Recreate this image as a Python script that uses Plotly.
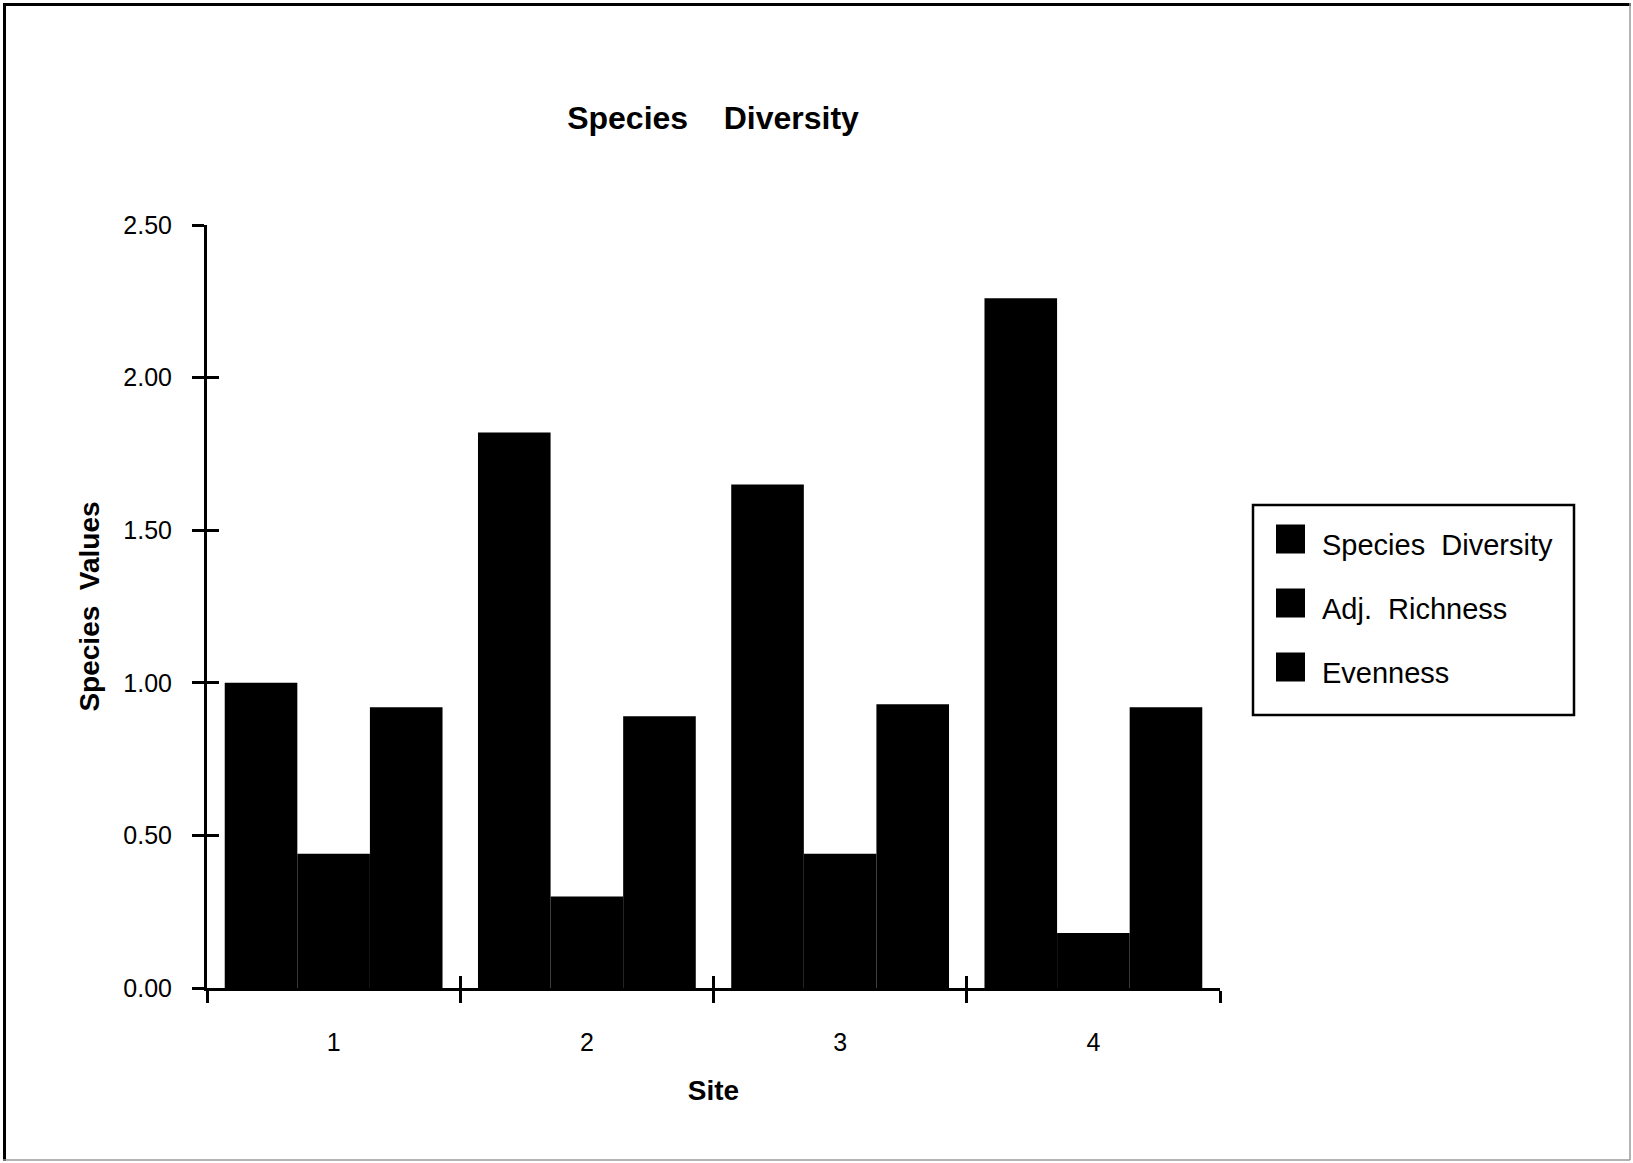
import plotly.graph_objects as go

# ---- data -------------------------------------------------------------
sites = ["1", "2", "3", "4"]
series_names = ["Species\u00a0\u00a0Diversity", "Adj.\u00a0\u00a0Richness", "Evenness"]
species_diversity = [1.00, 1.82, 1.65, 2.26]
adj_richness = [0.44, 0.30, 0.44, 0.18]
evenness = [0.92, 0.89, 0.93, 0.92]
y_ticks = [0.0, 0.5, 1.0, 1.5, 2.0, 2.5]

series_values = [species_diversity, adj_richness, evenness]
bar_color = "#000000"

# ---- geometry (pixels) ------------------------------------------------
FIG_W, FIG_H = 1633, 1163
L, R, T, B = 207, 413, 225, 175
PW, PH = FIG_W - L - R, FIG_H - T - B


def paper_x(px):
    return (px - L) / PW


def paper_y(py):
    return (FIG_H - B - py) / PH


FONT = "Liberation Sans, Arial, Helvetica, sans-serif"

fig = go.Figure()
for name, vals in zip(series_names, series_values):
    fig.add_trace(go.Bar(
        x=sites, y=vals, name=name,
        marker=dict(color=bar_color, line=dict(width=0)),
        showlegend=False,
    ))

n = len(sites)
boundaries = [i - 0.5 for i in range(n + 1)]

fig.update_layout(
    width=FIG_W, height=FIG_H,
    margin=dict(l=L, r=R, t=T, b=B, pad=0),
    paper_bgcolor="white", plot_bgcolor="white",
    barmode="group", bargap=0.14, bargroupgap=0,
    font=dict(family=FONT, color="black"),
    title=dict(
        text="<b>Species\u00a0\u00a0\u00a0\u00a0Diversity</b>",
        x=713 / FIG_W, xanchor="center", xref="container",
        y=1 - 118 / FIG_H, yanchor="middle", yref="container",
        font=dict(size=32, family=FONT, color="black"),
    ),
    xaxis=dict(
        type="category", tickson="boundaries",
        ticks="outside", ticklen=12, tickwidth=3, tickcolor="black",
        showline=True, linewidth=3, linecolor="black",
        showgrid=False, zeroline=False,
        tickfont=dict(size=25, family=FONT, color="black"),
        ticklabelstandoff=30,
        title=dict(text="<b>Site</b>", standoff=26,
                   font=dict(size=28, family=FONT, color="black")),
        range=[-0.5, n - 0.5],
    ),
    yaxis=dict(
        range=[0, 2.5], tickvals=y_ticks, tickformat=".2f",
        ticks="outside", ticklen=12, tickwidth=3, tickcolor="black",
        showline=True, linewidth=3, linecolor="black",
        showgrid=False, zeroline=False,
        tickfont=dict(size=25, family=FONT, color="black"),
        ticklabelstandoff=15,
        title=dict(text="<b>Species\u00a0\u00a0Values</b>", standoff=16,
                   font=dict(size=28, family=FONT, color="black")),
    ),
    # overlay axes supply the inner half of each crossing tick mark
    xaxis2=dict(
        overlaying="x", anchor="y", range=[-0.5, n - 0.5],
        tickvals=boundaries, ticks="inside", ticklen=12, tickwidth=3,
        tickcolor="black", showticklabels=False, showline=False,
        showgrid=False, zeroline=False,
    ),
    yaxis2=dict(
        overlaying="y", anchor="x", side="left", range=[0, 2.5],
        tickvals=y_ticks, ticks="inside", ticklen=12, tickwidth=3,
        tickcolor="black", showticklabels=False, showline=False,
        showgrid=False, zeroline=False,
    ),
)

# empty trace so the overlay axes are drawn
fig.add_trace(go.Scatter(x=[], y=[], xaxis="x2", yaxis="y2",
                         showlegend=False, hoverinfo="skip"))

shapes = []
# page frame
shapes.append(dict(type="line", xref="paper", yref="paper",
                   x0=paper_x(3), x1=paper_x(1631), y0=paper_y(4.5), y1=paper_y(4.5),
                   line=dict(color="black", width=3)))
shapes.append(dict(type="line", xref="paper", yref="paper",
                   x0=paper_x(4.5), x1=paper_x(4.5), y0=paper_y(3), y1=paper_y(1161),
                   line=dict(color="black", width=3)))
shapes.append(dict(type="line", xref="paper", yref="paper",
                   x0=paper_x(1630), x1=paper_x(1630), y0=paper_y(3), y1=paper_y(1160),
                   line=dict(color="#9a9a9a", width=1.5)))
shapes.append(dict(type="line", xref="paper", yref="paper",
                   x0=paper_x(3), x1=paper_x(1630), y0=paper_y(1160), y1=paper_y(1160),
                   line=dict(color="#9a9a9a", width=1.5)))

# legend box
shapes.append(dict(type="rect", xref="paper", yref="paper",
                   x0=paper_x(1253), x1=paper_x(1574), y0=paper_y(505), y1=paper_y(715),
                   line=dict(color="black", width=2.5), fillcolor="white"))

annotations = []
row_centers = [539, 603, 667]
for name, cy in zip(series_names, row_centers):
    shapes.append(dict(type="rect", xref="paper", yref="paper",
                       x0=paper_x(1276), x1=paper_x(1305),
                       y0=paper_y(cy - 14.5), y1=paper_y(cy + 14.5),
                       line=dict(width=0), fillcolor=bar_color))
    annotations.append(dict(
        text=name, xref="paper", yref="paper",
        x=paper_x(1320), y=paper_y(cy + 6), xanchor="left", yanchor="middle",
        showarrow=False, font=dict(size=29, family=FONT, color="black"),
    ))

fig.update_layout(shapes=shapes, annotations=annotations)

fig.write_html("out.html")
